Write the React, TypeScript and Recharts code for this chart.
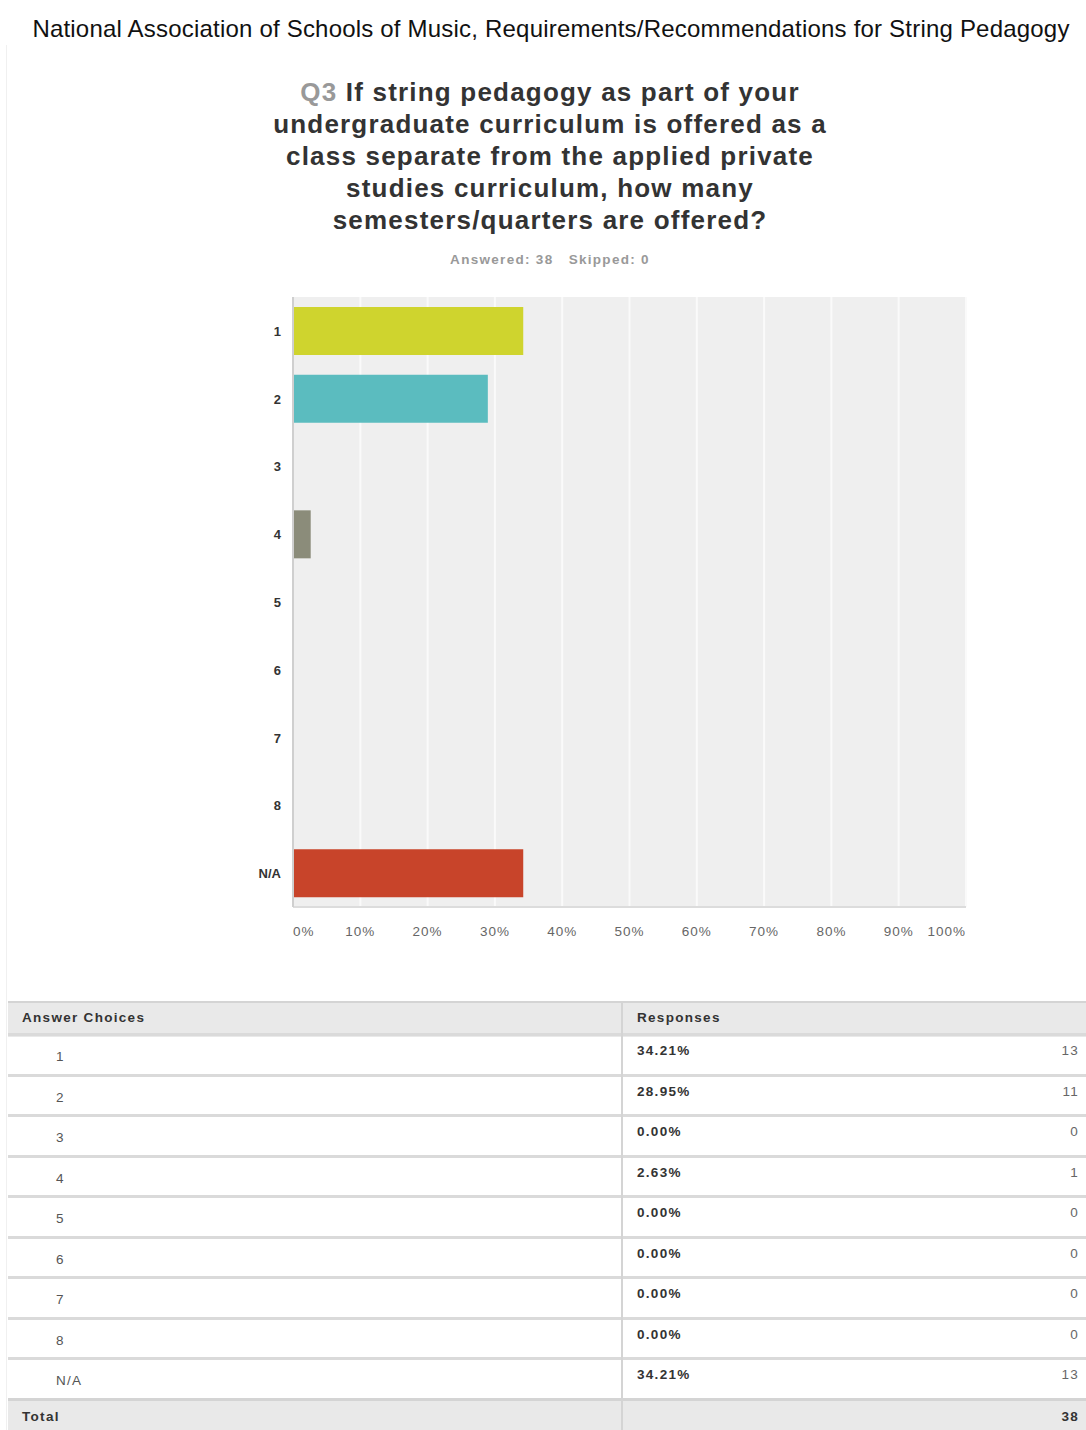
import { BarChart, Bar, XAxis, YAxis, CartesianGrid, Cell } from 'recharts';

const categories = ['1', '2', '3', '4', '5', '6', '7', '8', 'N/A'];
const percents = [34.21, 28.95, 0, 2.63, 0, 0, 0, 0, 34.21];
const counts = [13, 11, 0, 1, 0, 0, 0, 0, 13];
const barColors = ['#cfd42e', '#5bbcbf', '#a3c27a', '#8b8c7a', '#e8a33a', '#6f8fb3', '#9c6fa8', '#d4c24a', '#c8442a'];
const xTicks = [0, 10, 20, 30, 40, 50, 60, 70, 80, 90, 100];
const totalAnswered = 38;
const totalSkipped = 0;

const data = categories.map((c, i) => ({ choice: c, value: percents[i] }));

const FONT = '"Liberation Sans", Arial, Helvetica, sans-serif';

function XTick(props: any) {
  const { x, y, payload } = props;
  let anchor = 'middle';
  if (payload.value === 0) anchor = 'start';
  if (payload.value === 100) anchor = 'end';
  return (
    <text x={x} y={y + 21} textAnchor={anchor} fill="#666" fontSize={13.5} letterSpacing={1} fontFamily={FONT}>
      {payload.value}%
    </text>
  );
}

function YTick(props: any) {
  const { x, y, payload } = props;
  return (
    <text x={x - 4} y={y + 5} textAnchor="end" fill="#333" fontSize={13} fontWeight="bold" fontFamily={FONT}>
      {payload.value}
    </text>
  );
}

const questionLines = [
  'If string pedagogy as part of your',
  'undergraduate curriculum is offered as a',
  'class separate from the applied private',
  'studies curriculum, how many',
  'semesters/quarters are offered?',
];

const cell: React.CSSProperties = { position: 'absolute', fontFamily: FONT, fontSize: 13.5, letterSpacing: 1.3 };

export default function App() {
  const rowTop = 1035;
  const rowH = 40.5;
  return (
    <div style={{ position: 'absolute', left: 0, top: 0, width: 1086, height: 1430, background: '#fff', overflow: 'hidden', fontFamily: FONT }}>
      <div style={{ position: 'absolute', left: 6, top: 45, width: 1, height: 1385, background: '#f0f0f0' }} />
      <div style={{ position: 'absolute', left: 0, top: 15, width: 1102, textAlign: 'center', fontSize: 24, color: '#111', letterSpacing: 0.2, whiteSpace: 'nowrap' }}>
        National Association of Schools of Music, Requirements/Recommendations for String Pedagogy
      </div>
      <div style={{ position: 'absolute', left: 200, top: 76, width: 700, textAlign: 'center', fontSize: 26, fontWeight: 'bold', color: '#333', lineHeight: '32px', letterSpacing: 1.2 }}>
        {questionLines.map((l, i) => (
          <div key={i} style={{ whiteSpace: 'nowrap' }}>
            {i === 0 && <span style={{ color: '#999' }}>Q3 </span>}
            {l}
          </div>
        ))}
      </div>
      <div style={{ position: 'absolute', left: 250, top: 252, width: 600, textAlign: 'center', fontSize: 13.5, fontWeight: 'bold', color: '#999', whiteSpace: 'pre', letterSpacing: 1.3 }}>
        {`Answered: ${totalAnswered}   Skipped: ${totalSkipped}`}
      </div>

      <div style={{ position: 'absolute', left: 0, top: 280 }}>
        <BarChart width={1086} height={680} data={data} layout="vertical" margin={{ top: 17, right: 120, left: 243, bottom: 23 }}>
          <CartesianGrid horizontal={false} vertical={true} fill="#efefef" stroke="#fafafa" strokeWidth={2} />
          <XAxis type="number" domain={[0, 100]} ticks={xTicks} axisLine={{ stroke: '#dcdcdc', strokeWidth: 2 }} tickLine={false} tick={<XTick />} height={30} interval={0} />
          <YAxis type="category" dataKey="choice" width={50} axisLine={{ stroke: '#cfcfcf', strokeWidth: 2 }} tickLine={false} tick={<YTick />} interval={0} />
          <Bar dataKey="value" barSize={48} isAnimationActive={false}>
            {data.map((_, i) => (
              <Cell key={i} fill={barColors[i]} />
            ))}
          </Bar>
        </BarChart>
      </div>

      {/* table */}
      <div style={{ position: 'absolute', left: 8, top: 1001, width: 1090, height: 34, background: '#e9e9e9', borderTop: '2px solid #d4d4d4' }} />
      <div style={{ ...cell, left: 22, top: 1010, fontWeight: 'bold', color: '#333' }}>Answer Choices</div>
      <div style={{ ...cell, left: 637, top: 1010, fontWeight: 'bold', color: '#333' }}>Responses</div>
      {categories.map((c, i) => {
        const top = rowTop + i * rowH;
        return (
          <div key={c}>
            <div style={{ position: 'absolute', left: 8, top: top - 2, width: 1090, height: 3, background: '#dadada' }} />
            <div style={{ ...cell, left: 56, top: top + 14, color: '#555' }}>{c}</div>
            <div style={{ ...cell, left: 637, top: top + 8, fontWeight: 'bold', color: '#333' }}>{percents[i].toFixed(2)}%</div>
            <div style={{ ...cell, right: 7, top: top + 8, color: '#666', textAlign: 'right' }}>{counts[i]}</div>
          </div>
        );
      })}
      <div style={{ position: 'absolute', left: 8, top: rowTop + 9 * rowH - 2, width: 1090, height: 40, background: '#e9e9e9', borderTop: '3px solid #d4d4d4' }} />
      <div style={{ ...cell, left: 22, top: rowTop + 9 * rowH + 9, fontWeight: 'bold', color: '#333' }}>Total</div>
      <div style={{ ...cell, right: 7, top: rowTop + 9 * rowH + 9, fontWeight: 'bold', color: '#333' }}>{totalAnswered}</div>
      <div style={{ position: 'absolute', left: 621, top: 1001, width: 2, height: 430, background: '#d4d4d4' }} />
    </div>
  );
}
